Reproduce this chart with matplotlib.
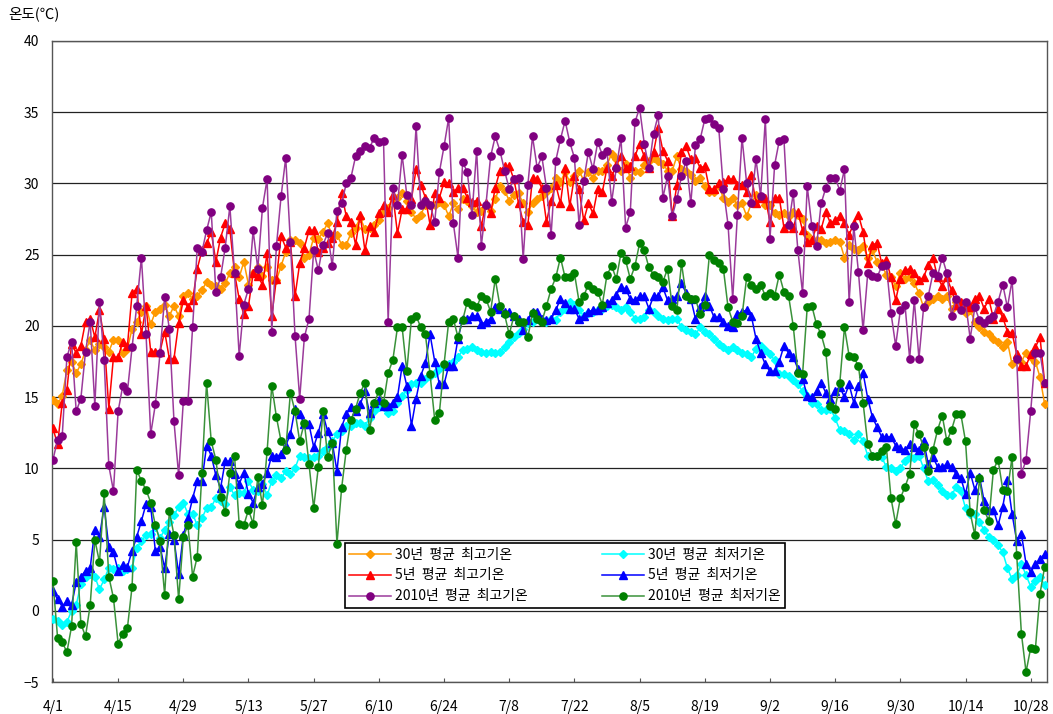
import numpy as np
import matplotlib
matplotlib.use("Agg")
import matplotlib.pyplot as plt

plt.rcParams['font.family'] = ['Noto Sans CJK KR', 'DejaVu Sans']

# Daily temperatures, 4/1 - 10/31
max_30yr = [
    14.8, 14.5, 15.1, 16.9, 17.5, 16.7, 17.3, 18.3, 19.0, 18.3, 18.7, 18.5, 18.2, 19.0, 19.0, 18.1, 18.4, 19.8,
    20.3, 21.0, 21.4, 20.1, 21.0, 21.2, 21.5, 20.7, 21.4, 20.7, 22.1, 22.3, 21.9, 22.1, 22.5, 23.1, 22.9, 22.8,
    22.6, 23.0, 23.7, 24.1, 23.4, 24.5, 22.9, 23.7, 24.1, 23.5, 24.1, 23.2, 23.2, 24.2, 25.2, 26.0, 26.0, 25.8,
    24.8, 25.0, 26.2, 26.1, 26.6, 27.2, 26.3, 26.4, 25.7, 25.7, 26.5, 26.9, 27.6, 26.8, 26.9, 27.1, 27.4, 28.0, 28.3,
    29.0, 29.0, 29.3, 28.8, 28.0, 27.5, 27.8, 28.5, 28.5, 28.5, 28.7, 28.5, 27.7, 28.6, 28.2, 28.9, 28.8, 28.4,
    28.0, 28.1, 28.5, 28.1, 28.9, 29.8, 29.5, 28.8, 29.2, 29.3, 28.6, 28.0, 28.6, 28.9, 29.1, 29.4, 29.7, 30.4, 30.1,
    30.8, 30.1, 30.5, 30.9, 30.2, 30.8, 30.4, 30.9, 30.9, 31.3, 32.1, 31.7, 30.9, 31.4, 30.4, 30.9,
    30.8, 31.3, 31.6, 31.8, 31.6, 31.4, 30.9, 30.9, 31.9, 31.0, 30.9, 30.6, 30.2, 30.4, 29.8, 29.4, 29.4, 29.8, 29.0, 28.7,
    29.0, 28.5, 28.6, 27.7, 28.6, 29.2, 29.0, 28.5, 28.5, 27.9, 27.8, 27.9, 27.7, 28.0, 27.8, 27.5, 26.4, 26.0,
    26.0, 26.0, 25.8, 25.9, 26.0, 25.9, 24.8, 25.7, 25.4, 25.3, 25.6, 24.8, 25.3, 24.5, 24.3, 23.6, 23.4, 22.8, 23.7,
    23.3, 23.4, 23.0, 22.3, 21.3, 21.7, 21.9, 22.1, 21.9, 22.1, 21.2, 21.7, 21.6, 20.9, 21.1,
    20.3, 19.9, 19.6, 19.4, 19.1, 18.9, 18.5, 18.9, 17.3, 17.8, 17.5, 18.1, 17.8, 17.5, 16.4, 14.5,
]

max_5yr = [
    12.8, 11.7, 14.6, 15.5, 18.7, 18.1, 18.6, 20.3, 20.5, 19.2, 21.1, 19.1, 14.2, 17.8, 17.8, 18.9, 18.6, 22.3,
    22.6, 19.4, 21.4, 18.2, 18.2, 18.2, 19.6, 17.7, 17.7, 20.2, 21.8, 21.3, 21.8, 24.0, 25.3, 25.8, 26.6, 24.5,
    26.2, 27.2, 26.8, 23.7, 21.9, 20.8, 21.4, 23.7, 23.5, 22.9, 25.1, 20.7, 23.3, 26.3, 25.5, 25.9, 22.1, 24.4,
    25.5, 26.7, 26.7, 25.2, 25.5, 25.8, 26.2, 27.3, 29.3, 27.7, 27.3, 25.7, 27.8, 25.3, 27.0, 26.6, 27.9, 28.5, 28.0,
    29.2, 26.5, 28.2, 28.2, 28.9, 31.0, 29.9, 29.0, 27.1, 29.3, 29.0, 30.1, 30.0, 29.4, 29.7, 29.7, 29.0, 28.7,
    28.8, 27.0, 28.6, 27.9, 29.7, 30.9, 31.2, 31.2, 30.3, 28.6, 27.3, 27.1, 30.4, 30.3, 29.7, 27.3, 28.8, 29.9, 28.6,
    31.1, 28.4, 30.5, 29.6, 27.4, 28.6, 27.9, 29.6, 29.4, 31.1, 30.5, 31.3, 31.9, 31.1, 31.2, 31.9,
    32.8, 31.9, 31.1, 32.2, 33.9, 32.3, 31.6, 27.7, 29.9, 32.2, 32.6, 31.7, 31.8, 31.1, 31.2, 29.6, 29.6, 30.0, 30.1, 30.3,
    30.3, 29.9, 29.9, 29.4, 30.6, 28.6, 29.0, 29.0, 27.3, 29.0, 29.0, 26.9, 27.3, 26.9, 28.0, 26.7, 25.9, 26.0,
    27.0, 26.8, 28.0, 27.2, 27.4, 27.7, 27.2, 26.4, 27.2, 27.8, 26.6, 24.4, 25.7, 25.8, 24.4, 24.6, 23.4, 21.8, 23.3,
    23.9, 24.0, 23.7, 23.2, 23.4, 24.3, 24.8, 23.4, 22.8, 23.4, 22.5, 21.5, 21.7, 21.5, 21.3,
    21.9, 22.1, 21.2, 21.9, 20.5, 21.2, 20.6, 19.6, 19.5, 18.0, 17.2, 17.2, 18.0, 18.5, 19.2, 16.0,
]

max_2010 = [
    10.6, 12.0, 12.3, 17.8, 18.9, 14.0, 14.9, 18.2, 20.3, 14.4, 21.7, 17.6, 10.2, 8.4, 14.0, 15.8, 15.4, 18.5,
    21.4, 24.8, 19.4, 12.4, 14.5, 18.1, 22.0, 19.8, 13.3, 9.5, 14.7, 14.7, 19.9, 25.5, 25.2, 26.7, 28.0, 22.4,
    23.4, 25.5, 28.4, 23.7, 17.9, 21.5, 22.6, 26.7, 24.0, 28.3, 30.3, 19.6, 25.6, 29.1, 31.8, 25.9, 19.3, 14.9,
    19.2, 20.5, 25.3, 23.9, 25.7, 26.5, 24.2, 28.1, 28.6, 30.0, 30.4, 31.9, 32.3, 32.6, 32.5, 33.2, 32.9, 33.0, 20.3,
    29.7, 28.5, 32.0, 29.2, 28.5, 34.0, 28.5, 28.8, 28.5, 27.3, 30.8, 32.6, 34.6, 27.2, 24.8, 31.5, 30.8, 27.8,
    32.3, 25.6, 28.5, 31.9, 33.3, 32.3, 30.9, 29.6, 30.3, 30.4, 24.7, 29.9, 33.3, 31.1, 31.9, 29.7, 26.4, 31.6, 33.1,
    34.4, 32.9, 31.8, 27.1, 30.2, 32.2, 31.0, 32.9, 32.0, 32.3, 28.7, 31.1, 33.2, 26.9, 28.0, 34.3,
    35.3, 32.8, 31.1, 33.5, 34.8, 29.0, 30.5, 27.7, 28.9, 30.5, 31.6, 28.6, 32.7, 33.1, 34.5, 34.6, 34.2, 33.9, 29.6, 27.1,
    21.9, 27.8, 33.2, 30.0, 28.6, 31.7, 29.1, 34.5, 26.1, 31.3, 33.0, 33.1, 27.1, 29.3, 25.3, 22.3, 29.8, 27.0,
    25.6, 28.6, 29.7, 30.4, 30.4, 29.5, 31.0, 21.7, 27.0, 23.8, 19.7, 23.7, 23.5, 23.4, 24.2, 24.3, 20.9, 18.6, 21.1,
    21.5, 17.7, 21.8, 17.7, 21.3, 22.1, 23.7, 23.5, 24.8, 23.7, 20.7, 21.9, 21.1, 21.7, 19.1,
    21.3, 20.4, 20.2, 20.5, 20.7, 21.7, 22.9, 21.3, 23.2, 17.7, 9.6, 10.6, 14.0, 18.1, 18.1, 16.0,
]

min_30yr = [
    -0.6, -0.7, -1.0, -0.8, 0.0, 0.4, 1.9, 2.4, 2.6, 2.4, 1.5, 2.2, 3.0, 2.9, 3.0, 2.8, 2.9, 3.0,
    4.4, 4.9, 5.3, 5.4, 5.9, 5.1, 5.7, 6.2, 6.7, 7.3, 7.6, 6.8, 6.8, 6.0, 6.5, 7.2, 7.3, 7.9,
    7.7, 7.5, 8.7, 8.1, 8.3, 8.3, 9.1, 8.5, 8.4, 8.9, 8.1, 9.1, 9.5, 9.3, 9.8, 9.6, 10.0, 10.9,
    10.8, 10.7, 10.8, 10.9, 11.2, 11.5, 11.9, 12.4, 12.6, 13.0, 13.0, 13.2, 13.2, 13.0, 13.5, 14.0, 14.3, 14.3, 13.9,
    14.0, 14.6, 15.1, 15.5, 15.9, 16.0, 16.0, 16.3, 16.5, 16.7, 17.0, 17.2, 17.3, 17.5, 17.8, 18.3, 18.4, 18.5,
    18.3, 18.2, 18.1, 18.2, 18.1, 18.2, 18.5, 18.9, 19.2, 19.5, 19.8, 20.2, 20.3, 20.5, 20.4, 20.3, 20.5, 20.4, 21.0,
    21.2, 21.7, 21.5, 21.1, 20.7, 20.9, 21.0, 21.1, 21.2, 21.4, 21.5, 21.3, 21.1, 21.3, 21.0, 20.5,
    20.5, 20.6, 21.1, 21.0, 20.7, 20.5, 20.4, 20.5, 20.5, 19.9, 19.7, 19.6, 19.4, 19.9, 19.6, 19.4, 19.1, 18.7, 18.5, 18.3,
    18.5, 18.3, 18.1, 18.0, 17.8, 18.4, 18.6, 18.3, 18.0, 17.6, 16.6, 16.6, 16.5, 16.2, 15.9, 15.4, 15.1, 14.6,
    14.5, 14.1, 14.1, 14.2, 13.5, 12.7, 12.6, 12.4, 12.0, 12.4, 11.9, 10.9, 10.9, 10.9, 10.8, 10.1, 10.0, 9.8, 10.0,
    10.5, 10.8, 10.7, 10.9, 10.0, 9.1, 9.2, 8.8, 8.4, 8.1, 8.1, 8.7, 8.4, 7.2, 6.8,
    6.8, 6.2, 5.7, 5.2, 5.0, 4.6, 4.1, 3.0, 2.2, 2.5, 3.3, 2.5, 1.7, 2.1, 2.4, 1.8,
]

min_5yr = [
    1.4, 0.8, 0.3, 0.7, 0.4, 2.0, 2.4, 2.8, 3.0, 5.7, 5.2, 7.3, 4.5, 4.1, 2.8, 3.2, 3.1, 4.2,
    5.2, 6.3, 7.5, 7.3, 4.2, 4.5, 3.0, 5.4, 5.0, 2.6, 5.3, 6.5, 7.9, 9.1, 9.1, 11.6, 10.9, 9.5,
    8.6, 10.5, 10.5, 9.6, 8.9, 9.7, 8.2, 7.6, 8.7, 8.9, 9.7, 10.9, 10.8, 11.0, 11.6, 12.4, 14.2, 13.8,
    13.1, 13.1, 11.5, 12.5, 13.8, 12.6, 11.8, 9.8, 12.9, 13.8, 14.3, 14.0, 14.5, 15.4, 13.9, 14.6, 14.8, 14.4, 14.4,
    14.6, 15.0, 17.2, 15.8, 13.0, 14.9, 16.5, 17.4, 19.4, 17.5, 15.9, 15.9, 17.2, 17.2, 19.1, 20.5, 20.5, 20.7,
    20.7, 20.1, 20.3, 20.5, 21.3, 21.2, 21.0, 21.0, 20.7, 20.5, 19.7, 20.4, 21.0, 21.0, 20.5, 20.4, 20.5, 21.1, 21.9,
    21.6, 21.2, 21.2, 20.5, 20.7, 21.0, 21.1, 21.1, 21.3, 21.6, 21.8, 22.2, 22.7, 22.6, 21.9, 21.8,
    22.1, 22.1, 21.2, 22.1, 22.1, 22.7, 21.8, 21.9, 22.1, 23.0, 22.3, 21.9, 20.5, 21.3, 22.1, 21.4, 20.6, 20.6, 20.3, 20.0,
    19.9, 20.8, 21.0, 21.1, 20.7, 19.1, 18.1, 17.3, 16.8, 16.8, 17.5, 18.6, 18.1, 17.8, 17.0, 16.3, 15.1, 15.0,
    15.4, 16.0, 15.3, 14.9, 15.4, 15.7, 15.0, 15.9, 14.6, 15.8, 16.7, 14.9, 13.6, 12.9, 12.2, 12.2, 12.2, 11.6, 11.4,
    11.3, 11.7, 11.5, 11.3, 11.9, 10.3, 10.8, 10.1, 10.1, 10.3, 10.1, 9.6, 9.3, 8.2, 9.7,
    8.5, 9.4, 7.7, 7.1, 7.1, 6.0, 7.3, 9.2, 6.8, 4.9, 5.4, 3.3, 2.7, 3.3, 3.6, 4.0,
]

min_2010 = [
    2.1, -1.9, -2.2, -2.9, -1.1, 4.8, -0.9, -1.8, 0.4, 5.0, 3.4, 8.3, 2.4, 0.9, -2.3, -1.6, -1.2, 1.7,
    9.9, 9.1, 8.5, 7.6, 6.0, 4.9, 1.1, 7.0, 5.3, 0.8, 5.2, 6.0, 2.4, 3.8, 9.7, 16.0, 11.9, 10.6,
    8.0, 6.9, 9.7, 10.9, 6.1, 6.0, 7.1, 6.1, 9.4, 7.4, 11.2, 15.8, 13.6, 11.9, 11.3, 15.3, 14.0, 11.9,
    13.2, 10.3, 7.2, 10.1, 14.0, 10.8, 11.8, 4.7, 8.6, 11.3, 13.4, 14.2, 15.3, 16.0, 12.7, 14.6, 15.4, 14.6, 16.7,
    17.6, 19.9, 19.9, 16.8, 20.5, 20.7, 19.9, 19.4, 16.6, 13.4, 13.9, 17.3, 20.3, 20.5, 19.2, 20.4, 21.7, 21.5,
    21.3, 22.1, 21.9, 21.0, 23.3, 21.4, 20.8, 19.4, 20.7, 20.3, 20.3, 19.2, 20.9, 20.5, 20.3, 21.4, 22.6, 23.4, 24.8,
    23.4, 23.4, 23.7, 21.7, 22.1, 22.9, 22.6, 22.4, 21.5, 23.6, 24.2, 23.3, 25.1, 24.6, 23.3, 24.2,
    25.8, 25.3, 24.1, 23.6, 23.4, 23.1, 24.0, 21.4, 21.1, 24.4, 22.1, 21.9, 21.9, 20.8, 21.5, 25.0, 24.6, 24.4, 24.0, 21.3,
    20.3, 20.2, 20.7, 23.4, 22.9, 22.6, 22.9, 22.1, 22.3, 22.1, 23.6, 22.4, 22.1, 20.0, 16.7, 16.6, 21.3, 21.4,
    20.1, 19.4, 18.2, 14.4, 14.2, 16.0, 19.9, 17.9, 17.8, 17.2, 14.6, 11.7, 10.9, 10.9, 11.2, 11.5, 7.9, 6.1, 7.9,
    8.7, 9.6, 13.1, 12.4, 11.5, 9.8, 11.3, 12.7, 13.7, 11.9, 12.7, 13.8, 13.8, 11.9, 6.9,
    5.3, 9.3, 7.1, 6.3, 9.9, 10.6, 8.5, 8.4, 10.8, 3.9, -1.6, -4.3, -2.6, -2.7, 1.2, 3.1,
]

tick_labels = ['4/1', '4/15', '4/29', '5/13', '5/27', '6/10', '6/24', '7/8',
               '7/22', '8/5', '8/19', '9/2', '9/16', '9/30', '10/14', '10/28']

series_labels = ['30년  평균  최고기온', '5년  평균  최고기온', '2010년  평균  최고기온',
                 '30년  평균  최저기온', '5년  평균  최저기온', '2010년  평균  최저기온']

all_series = [max_30yr, max_5yr, max_2010, min_30yr, min_5yr, min_2010]
n_days = len(max_30yr)
for s in all_series:
    assert len(s) == n_days, len(s)

styles = [
    dict(color='#FF9900', mfc='#FF9900', marker='D', ms=3.6),
    dict(color='#FF0000', mfc='#FF0000', marker='^', ms=5.2),
    dict(color='#9B3A9B', mfc='#800080', marker='o', ms=5.2),
    dict(color='#00FFFF', mfc='#00FFFF', marker='D', ms=3.6),
    dict(color='#0000FF', mfc='#0000FF', marker='^', ms=5.2),
    dict(color='#3A923A', mfc='#008000', marker='o', ms=5.2),
]

fig = plt.figure(figsize=(10.53, 7.14), dpi=100)
ax = fig.add_axes([52 / 1053, 32 / 714, 995 / 1053, 641 / 714])

x = np.arange(n_days)
handles = []
for vals, lab, st in zip(all_series, series_labels, styles):
    h, = ax.plot(x, vals, color=st['color'], lw=1.1, marker=st['marker'],
                 ms=st['ms'], mfc=st['mfc'], mec=st['mfc'], label=lab, zorder=3)
    handles.append(h)

ax.set_xlim(-0.2, n_days - 0.5)
ax.set_ylim(-5, 40)
ax.set_yticks(np.arange(-5, 41, 5))
ax.set_xticks(np.arange(0, n_days, 14)[:len(tick_labels)])
ax.set_xticklabels(tick_labels)
ax.yaxis.grid(True, color='#222222', lw=0.9)
ax.set_axisbelow(True)
for sp in ax.spines.values():
    sp.set_color('#555555')
    sp.set_linewidth(1.0)
ax.tick_params(axis='x', direction='in', length=3, labelsize=10, pad=13, color='#555555')
ax.tick_params(axis='y', length=0, labelsize=10, pad=9)

fig.text(8 / 1053, 1 - 14 / 714, '온도(℃)', fontsize=10.5, va='center', ha='left')

leg = ax.legend(handles=handles, ncol=2, loc='lower left',
                bbox_to_anchor=(0.294, 0.115, 0.443, 0.101), mode='expand',
                fontsize=10, frameon=True, fancybox=False, edgecolor='black',
                framealpha=1, borderpad=0.35, labelspacing=0.5,
                handlelength=3.0, handletextpad=0.3, columnspacing=1.0,
                borderaxespad=0)
leg.get_frame().set_linewidth(1.2)
leg.set_zorder(5)

fig.savefig('out.png', dpi=100, facecolor='white')
